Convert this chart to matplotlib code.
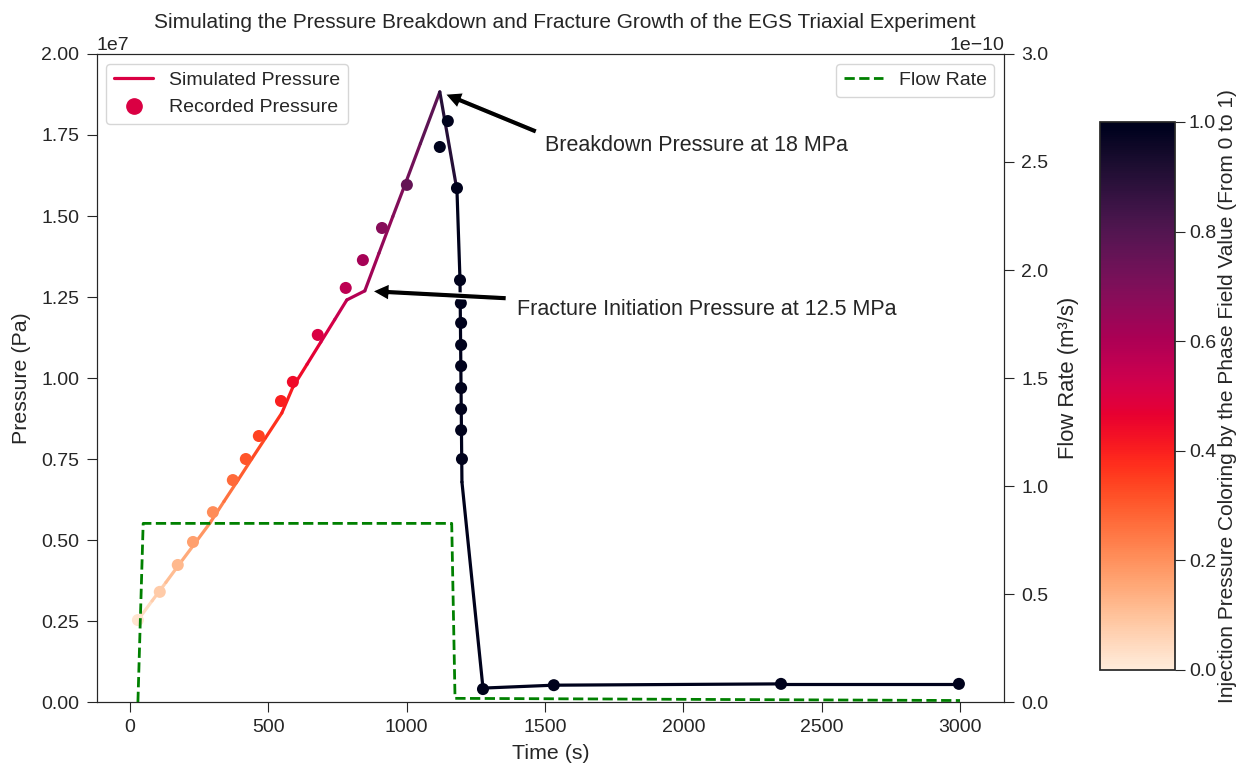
import numpy as np
import matplotlib
matplotlib.use("Agg")
import matplotlib.pyplot as plt
import seaborn as sns
from matplotlib.collections import LineCollection
from matplotlib.lines import Line2D
from matplotlib.cm import ScalarMappable
from matplotlib.colors import Normalize, ListedColormap, rgb_to_hsv, hsv_to_rgb

sns.set_style("ticks")
plt.rcParams['font.family'] = ['Liberation Sans', 'DejaVu Sans']
plt.rcParams.update({'xtick.major.size': 7, 'ytick.major.size': 7,
                     'xtick.major.pad': 5.5, 'ytick.major.pad': 5.5})

# ---- data ----
# simulated pressure (time s, pressure Pa, phase-field value)
t_sim = [29, 80, 130, 180, 230, 289, 340, 390, 440, 490, 549, 589, 640, 690, 740, 784,
         849, 900, 950, 1000, 1050, 1120, 1182, 1193, 1200, 1276, 1532, 2353, 2996]
p_sim = [2.53e6, 3.12e6, 3.69e6, 4.27e6, 4.84e6, 5.52e6, 6.19e6, 6.84e6, 7.50e6, 8.15e6,
         8.92e6, 9.72e6, 10.42e6, 11.11e6, 11.80e6, 12.41e6, 12.69e6, 13.85e6, 14.98e6,
         16.10e6, 17.24e6, 18.83e6, 15.80e6, 13.02e6, 6.79e6, 0.43e6, 0.52e6, 0.56e6, 0.56e6]
phase_sim = [0.02, 0.06, 0.09, 0.13, 0.17, 0.21, 0.24, 0.28, 0.31, 0.35, 0.39, 0.42, 0.46,
             0.49, 0.53, 0.56, 0.61, 0.64, 0.68, 0.71, 0.75, 0.80, 1.0, 1.0, 1.0, 1.0, 1.0,
             1.0, 1.0]

# recorded pressure
t_rec = [29, 108, 173, 228, 300, 372, 419, 466, 546, 589, 679, 780, 842, 911, 1001,
         1120, 1149, 1182, 1193, 1196, 1197, 1197, 1197, 1197, 1197, 1197, 1200,
         1276, 1532, 2353, 2996]
p_rec = [2.53e6, 3.40e6, 4.23e6, 4.94e6, 5.86e6, 6.85e6, 7.50e6, 8.21e6, 9.29e6, 9.88e6,
         11.33e6, 12.78e6, 13.64e6, 14.63e6, 15.96e6, 17.13e6, 17.93e6, 15.86e6, 13.02e6,
         12.31e6, 11.70e6, 11.02e6, 10.37e6, 9.69e6, 9.04e6, 8.39e6, 7.50e6,
         0.40e6, 0.52e6, 0.56e6, 0.56e6]
phase_rec = [0.02, 0.08, 0.12, 0.17, 0.21, 0.27, 0.31, 0.34, 0.40, 0.44, 0.50, 0.57, 0.62,
             0.68, 0.76, 1.0, 1.0, 1.0, 1.0, 1.0, 1.0, 1.0, 1.0, 1.0, 1.0, 1.0, 1.0,
             1.0, 1.0, 1.0, 1.0]

# flow rate
t_flow = [29, 48, 1163, 1175, 3000]
q_flow = [0.0, 8.27e-11, 8.27e-11, 1.7e-12, 0.7e-12]

cbar_ticks = [0.0, 0.2, 0.4, 0.6, 0.8, 1.0]

# rocket_r, a little more saturated (as in the reference rendering)
base = np.array(sns.color_palette("rocket_r", 256))
hsv = rgb_to_hsv(base)
hsv[:, 1] = np.clip(hsv[:, 1] * 1.2, 0, 1)
hsv[:, 2] = np.clip(hsv[:, 2] * 1.08, 0, 1)
cmap = ListedColormap(hsv_to_rgb(hsv))
norm = Normalize(vmin=0, vmax=1)

fig = plt.figure(figsize=(12.38, 7.68), dpi=100)
ax = fig.add_axes([0.0781, 0.0859, 0.811 - 0.0781, 0.9297 - 0.0859])

pts = np.column_stack([t_sim, p_sim])
segs = np.stack([pts[:-1], pts[1:]], axis=1)
ph = np.asarray(phase_sim)
lc = LineCollection(segs, cmap=cmap, norm=norm, linewidths=2.3, capstyle='round',
                    joinstyle='round', zorder=2)
lc.set_array((ph[:-1] + ph[1:]) / 2)
ax.add_collection(lc)

ax.scatter(t_rec, p_rec, c=phase_rec, cmap=cmap, norm=norm, s=75, zorder=3,
           edgecolors='none')

ax.set_xlim(-120, 3159)
ax.set_ylim(0, 2e7)
ax.set_xlabel('Time (s)', fontsize=15.4, labelpad=5.5)
ax.set_ylabel('Pressure (Pa)', fontsize=15.4, labelpad=7.5)
ax.tick_params(labelsize=14)
ax.yaxis.get_offset_text().set_fontsize(14)
ax.set_title('Simulating the Pressure Breakdown and Fracture Growth of the EGS Triaxial Experiment',
             fontsize=15, x=0.5155)

mid = cmap(0.5)
h1 = Line2D([], [], color=mid, lw=2.3)
h2 = Line2D([], [], color=mid, lw=0, marker='o', markersize=11)
ax.legend([h1, h2], ['Simulated Pressure', 'Recorded Pressure'], loc='upper left',
          fontsize=14)

ax.annotate('Breakdown Pressure at 18 MPa', xy=(1120, 18.83e6), xytext=(1500, 17.0e6),
            fontsize=15.5, arrowprops=dict(facecolor='black', shrink=0.05))
ax.annotate('Fracture Initiation Pressure at 12.5 MPa', xy=(849, 12.69e6),
            xytext=(1400, 11.95e6), fontsize=15.5,
            arrowprops=dict(facecolor='black', shrink=0.05))

ax2 = ax.twinx()
ax2.plot(t_flow, q_flow, '--', color='green', lw=2, label='Flow Rate')
ax2.set_ylim(0, 3e-10)
ax2.set_ylabel('Flow Rate (m³/s)', fontsize=15.8, labelpad=6.5)
ax2.tick_params(labelsize=14)
ax2.yaxis.get_offset_text().set_fontsize(14)
ax2.legend(loc='upper right', fontsize=14)
for a in (ax, ax2):
    for s in a.spines.values():
        s.set_visible(True)

cax = fig.add_axes([1100 / 1238, 1 - 670 / 768, 75 / 1238, 548 / 768])
sm = ScalarMappable(norm=norm, cmap=cmap)
cb = fig.colorbar(sm, cax=cax, ticks=cbar_ticks)
cb.ax.tick_params(labelsize=14, length=7, pad=3)
cb.set_label('Injection Pressure Coloring by the Phase Field Value (From 0 to 1)', fontsize=15,
             labelpad=1)
cb.outline.set_linewidth(1.25)

fig.savefig('out.png', dpi=100)
